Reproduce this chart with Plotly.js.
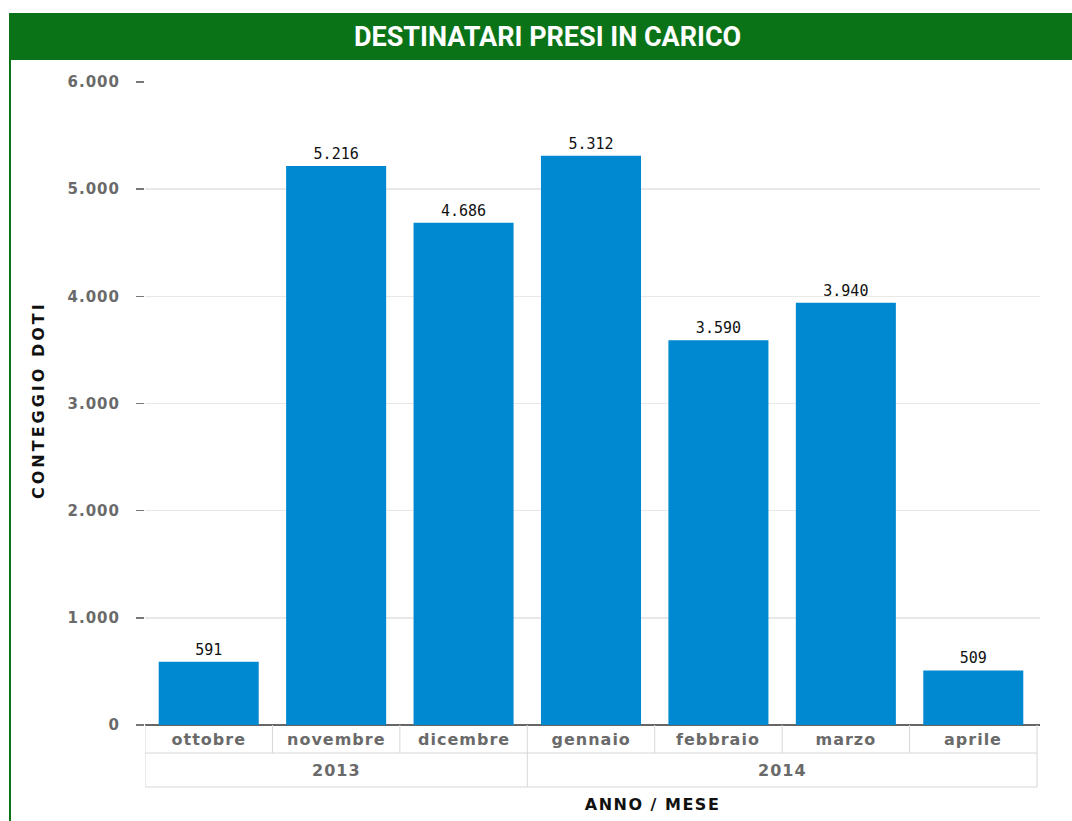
<!DOCTYPE html>
<html>
<head>
<meta charset="utf-8">
<script src="https://cdn.plot.ly/plotly-3.0.1.min.js"></script>
<style>
html,body{margin:0;padding:0;background:#fff;}
#chart{width:1072px;height:821px;}
</style>
</head>
<body>
<div id="chart"></div>
<script>
// ---- data ----
const months = ["ottobre","novembre","dicembre","gennaio","febbraio","marzo","aprile"];
const years = ["2013","2013","2013","2014","2014","2014","2014"];
const yearLabels = ["2013","2014"];
const values = [591, 5216, 4686, 5312, 3590, 3940, 509];
const yTicks = [0, 1000, 2000, 3000, 4000, 5000, 6000];

// ---- layout constants (pixels) ----
const W = 1072, H = 821;
const L = 145, R = 1040, T = 82, B = 725;
const pw = R - L, ph = B - T;
const px = x => (x - L) / pw;          // pixel x -> paper x
const py = y => (B - y) / ph;          // pixel y -> paper y

const green = "#0A7318";
const lineCol = "#d6d6d6";
const row1 = 753, row2 = 787;

const shapes = [];
// header band
shapes.push({type:"rect", xref:"paper", yref:"paper", x0:px(9), x1:px(1072), y0:py(60), y1:py(13),
  fillcolor:green, line:{width:0}, layer:"below"});
// left border
shapes.push({type:"line", xref:"paper", yref:"paper", x0:px(10), x1:px(10), y0:py(60), y1:py(821),
  line:{color:green, width:2}});

// category table: separators between months
for (let i = 0; i <= months.length; i++) {
  const isYearEdge = (i === 0 || i === months.length || years[i] !== years[i-1]);
  shapes.push({type:"line", xref:"x", yref:"paper", x0:i-0.5, x1:i-0.5,
    y0:0, y1:py(isYearEdge ? row2 : row1), line:{color:lineCol, width:1}});
}
// horizontal lines of table
shapes.push({type:"line", xref:"x", yref:"paper", x0:-0.5, x1:months.length-0.5, y0:py(row1), y1:py(row1), line:{color:lineCol, width:1}});
shapes.push({type:"line", xref:"x", yref:"paper", x0:-0.5, x1:months.length-0.5, y0:py(row2), y1:py(row2), line:{color:lineCol, width:1}});

const annotations = [];
const ann = (o) => Object.assign({showarrow:false, xanchor:"center", yanchor:"middle"}, o);
// month labels
months.forEach((m, i) => annotations.push(ann({x:i, xref:"x", y:py((B+row1)/2), yref:"paper", text:m,
  font:{family:"DejaVu Sans", size:16, color:"#6a6a6a", weight:"bold"}, name:"sp1"})));
// year labels (centered on their groups)
yearLabels.forEach(yr => {
  const idx = years.map((v,i)=>v===yr?i:-1).filter(i=>i>=0);
  const c = (idx[0] + idx[idx.length-1]) / 2;
  annotations.push(ann({x:c, xref:"x", y:py((row1+row2)/2), yref:"paper", text:yr,
    font:{family:"DejaVu Sans", size:16, color:"#6a6a6a", weight:"bold"}, name:"sp1"}));
});
// title
annotations.push(ann({x:px(547), xref:"paper", y:py(37), yref:"paper", text:"DESTINATARI PRESI IN CARICO",
  font:{family:"Roboto", size:27, color:"#fff", weight:"bold", stretch:"condensed"}, name:"title"}));
// x axis title
annotations.push(ann({x:px(652), xref:"paper", y:py(805), yref:"paper", text:"ANNO / MESE",
  font:{family:"DejaVu Sans", size:16, color:"#111", weight:"bold"}, name:"sp2"}));
// y axis title
annotations.push(ann({x:px(38), xref:"paper", y:py(400), yref:"paper", text:"CONTEGGIO DOTI", textangle:-90,
  font:{family:"DejaVu Sans", size:16, color:"#111", weight:"bold"}, name:"sp3"}));

const trace = {
  type:"bar", x:months, y:values,
  marker:{color:"#0088D1", line:{width:0}},
  texttemplate:"%{y:,d}", textposition:"outside", cliponaxis:false,
  textfont:{family:"DejaVu Sans Mono", size:15, color:"#111"},
  hoverinfo:"x+y"
};

const layout = {
  width:W, height:H,
  margin:{l:L, r:W-R, t:T, b:H-B, pad:0},
  paper_bgcolor:"#fff", plot_bgcolor:"#fff",
  separators:",.",
  showlegend:false,
  bargap:0.215,
  xaxis:{type:"category", range:[-0.5, months.length-0.5+3/127.4], showticklabels:false, ticks:"",
    showgrid:false, zeroline:false, showline:false, fixedrange:true},
  yaxis:{range:[0,6000], tickvals:yTicks, tickformat:",d", ticks:"outside", ticklen:8, tickwidth:1.5,
    tickcolor:"#777", ticklabelstandoff:13,
    tickfont:{family:"DejaVu Sans", size:15, color:"#6a6a6a", weight:"bold"},
    showgrid:true, gridcolor:"#e8e8e8", gridwidth:1.5,
    zeroline:true, zerolinecolor:"#666", zerolinewidth:1.5, showline:false, fixedrange:true},
  shapes:shapes, annotations:annotations
};

Plotly.newPlot("chart", [trace], layout, {displayModeBar:false, staticPlot:true}).then(gd => {
  const spacing = {sp1:"1px", sp2:"1.5px", sp3:"3px"};
  const anns = gd.querySelectorAll(".annotation");
  gd.layout.annotations.forEach((a, i) => {
    if (spacing[a.name] && anns[i]) {
      const t = anns[i].querySelector("text");
      if (t) t.style.letterSpacing = spacing[a.name];
    }
  });
  gd.querySelectorAll(".ytick text").forEach(t => { t.style.letterSpacing = "1px"; });
});
</script>
</body>
</html>
